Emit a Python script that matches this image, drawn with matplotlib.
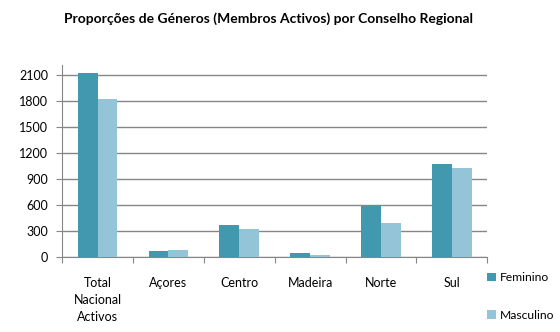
import matplotlib.pyplot as plt
import numpy as np

categories = ["Total\nNacional\nActivos", "Açores", "Centro", "Madeira", "Norte", "Sul"]
feminino = [2120, 66, 366, 43, 586, 1071]
masculino = [1820, 77, 320, 20, 390, 1025]
yticks = [0, 300, 600, 900, 1200, 1500, 1800, 2100]

plt.rcParams['font.family'] = ['Lato', 'DejaVu Sans']

fig = plt.figure(figsize=(5.6, 3.32), dpi=100)
ax = fig.add_axes([0.111, 0.227, 0.759, 0.577])

x = np.arange(len(categories))
w = 0.28
ax.bar(x - w / 2, feminino, w, color="#4198AF", label="Feminino", zorder=3)
ax.bar(x + w / 2, masculino, w, color="#93C4D7", label="Masculino", zorder=3)

ax.set_xlim(-0.5, len(categories) - 0.5)
ax.set_ylim(0, 2215)
ax.set_yticks(yticks)
ax.set_yticklabels([str(v) for v in yticks], fontsize=9)
ax.yaxis.grid(True, color="#868686", linewidth=1, zorder=0)

ax.set_xticks(np.arange(len(categories) + 1) - 0.5, minor=False)
ax.set_xticklabels([])
ax.set_xticks(x, minor=True)
ax.set_xticklabels(categories, minor=True, fontsize=9, linespacing=1.5)
ax.tick_params(axis="x", which="minor", length=0, pad=15)
ax.tick_params(axis="x", which="major", length=4, color="#868686")
ax.tick_params(axis="y", length=4, color="#868686", pad=6)

for s in ["top", "right"]:
    ax.spines[s].set_visible(False)
for s in ["left", "bottom"]:
    ax.spines[s].set_color("#868686")

fig.text(0.48, 0.945, "Proporções de Géneros (Membros Activos) por Conselho Regional",
         ha="center", va="center", fontsize=10, fontweight="bold")

fig.legend(loc="upper left", bbox_to_anchor=(0.869, 0.18), frameon=False, fontsize=8.7,
           borderpad=0, borderaxespad=0,
           handlelength=0.75, handleheight=0.75, handletextpad=0.35, labelspacing=2.2)

fig.savefig("out.png", dpi=100)
